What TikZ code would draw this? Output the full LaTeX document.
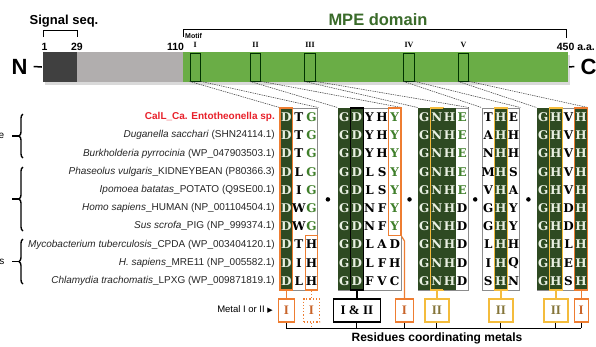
\documentclass[tikz,border=0pt]{standalone}
\usepackage{fontspec}
\setmainfont{Liberation Sans}
\newfontfamily\resfont{DejaVu Serif}
\newfontfamily\romfont{Liberation Serif}
\newfontfamily\symfont{DejaVu Sans}
\usetikzlibrary{positioning,decorations.pathreplacing}
\definecolor{barGreen}{HTML}{6AAD46}
\definecolor{barDark}{HTML}{404040}
\definecolor{barGrey}{HTML}{B1AEAE}
\definecolor{domGreen}{HTML}{3A6B2A}
\definecolor{cellDark}{HTML}{2E4A22}
\definecolor{resLight}{HTML}{E9F0E2}
\definecolor{resGreen}{HTML}{3F7F2A}
\definecolor{metOrange}{HTML}{EE7D31}
\definecolor{metYellow}{HTML}{F4BC3C}
\definecolor{metRed}{HTML}{E8202A}
\definecolor{grpGrey}{HTML}{8C8C8C}
\definecolor{txtOrange}{HTML}{C8642A}
\definecolor{txtOlive}{HTML}{857539}

\begin{document}
\begin{tikzpicture}[x=1pt, y=-1pt,
    barseg/.style={minimum height=30pt, inner sep=0pt},
    motbox/.style={draw=black!80!green, line width=0.8pt, minimum width=10.5pt, minimum height=28pt, inner sep=0pt},
    motlab/.style={font=\romfont\bfseries\fontsize{8}{8}\selectfont, inner sep=0pt},
    num/.style={font=\bfseries\fontsize{10.5}{11}\selectfont, inner sep=0pt},
    term/.style={font=\bfseries\fontsize{22}{22}\selectfont, inner sep=0pt},
    dashln/.style={draw=black!75, line width=0.55pt, dash pattern=on 1.4pt off 0.9pt},
    grpbox/.style={draw=grpGrey, line width=1pt, minimum height=182pt, inner sep=0pt},
    darkcol/.style={fill=cellDark, minimum width=12.6pt, minimum height=182pt, inner sep=0pt},
    hlbox/.style={minimum width=12.6pt, inner sep=0pt, line width=1.2pt},
    res/.style={font=\resfont\bfseries\fontsize{12}{12}\selectfont, inner sep=0pt},
    species/.style={anchor=east, inner sep=0pt, font=\fontsize{10}{10}\selectfont, text=black!85},
    metbox/.style={minimum height=23pt, inner sep=0pt, line width=1.2pt, fill=white, font=\romfont\bfseries\fontsize{13}{13}\selectfont},
    orline/.style={draw=metOrange, line width=1.2pt},
    yeline/.style={draw=metYellow, line width=1.2pt},
    brk/.style={line width=1.4pt, decorate, decoration={brace, amplitude=4pt}},
    dotmark/.style={circle, fill=black, inner sep=0pt, minimum size=4.5pt}]
  \fill[white] (0,0) rectangle (596,346);
  \useasboundingbox (0,0) rectangle (596,346);

  % protein bar
  \fill[black!15] (45,55) rectangle (570,85);
  \node[barseg, fill=barDark, minimum width=34pt] (sigseg) at (60,67) {};
  \node[barseg, fill=barGrey, minimum width=106pt] (proseg) at (130,67) {};
  \node[barseg, fill=barGreen, minimum width=385pt] (mpeseg) at (375.5,67) {};
  \node[term] (nterm) at (19.5,66.5) {N};
  \node[term] (cterm) at (588.5,66.5) {C};
  \draw[line width=1.5pt] ([xshift=6pt]nterm.east) -- ([xshift=-1pt]sigseg.west);
  \draw[line width=1.5pt] ([xshift=1pt]mpeseg.east) -- ([xshift=-6pt]cterm.west);

  \node[num] (n1) at (44.5,47) {1};
  \node[num] (n29) at (77,47) {29};
  \node[num] (n110) at (175.5,47) {110};
  \node[num, anchor=east] (n450) at (595,47) {450 a.a.};

  \draw[line width=0.8pt] (43,37) -- (43,30) -- (77,30) -- (77,37);
  \node[font=\bfseries\fontsize{13}{13}\selectfont] (sigtxt) at (64,21) {Signal seq.};
  \draw[line width=0.8pt] (183,37) -- (183,29) -- (566,29) -- (566,38);
  \node[font=\bfseries\fontsize{16.5}{16.5}\selectfont, text=domGreen] (mpetxt) at (378,20) {MPE domain};
  \node[font=\bfseries\fontsize{7}{7}\selectfont, anchor=west, inner sep=0pt] (motiftxt) at (185,36) {Motif};

  \foreach \k/\mx/\lab in {1/195.2/I, 2/255.5/II, 3/310/III, 4/409/IV, 5/463.5/V} {
    \node[motbox] (mot\k) at (\mx,67) {};
    \node[motlab, above=5pt of mot\k] (motlab\k) {\lab};
  }

  % alignment groups
  \node[grpbox, minimum width=37.8pt] (grp1) at (298.9,199) {};
  \node[grpbox, minimum width=63pt] (grp2) at (369.5,199) {};
  \node[grpbox, minimum width=50.4pt] (grp3) at (443.2,199) {};
  \node[grpbox, minimum width=37.8pt] (grp4) at (500.9,199) {};
  \node[grpbox, minimum width=50.4pt] (grp5) at (562.2,199) {};

  \foreach \k in {1,...,5} {
    \draw[dashln] (mot\k.south west) -- (grp\k.north west);
    \draw[dashln] (mot\k.south east) -- (grp\k.north east);
  }

  \node[darkcol, draw=metOrange, line width=1.2pt] (g1d) at (286.3,199) {};
  \node[hlbox, draw=metOrange, minimum height=54.2pt] (g1h) at (311.5,262.9) {};
  \node[darkcol] (g2g) at (344.3,199) {};
  \node[darkcol, draw=black, line width=1.3pt] (g2d) at (356.9,199) {};
  \node[hlbox, draw=metOrange, minimum height=127.8pt] (g2y) at (394.7,171.9) {};
  \node[darkcol] (g3g) at (424.3,199) {};
  \node[darkcol, draw=metYellow, line width=1.2pt] (g3n) at (436.9,199) {};
  \node[darkcol] (g3h) at (449.5,199) {};
  \node[darkcol, draw=metYellow, line width=1.2pt] (g4h) at (500.9,199) {};
  \node[darkcol] (g5g) at (543.3,199) {};
  \node[darkcol, draw=metYellow, line width=1.2pt] (g5h) at (555.9,199) {};
  \node[darkcol, draw=metOrange, line width=1.2pt] (g5l) at (581.1,199) {};

  \foreach \a/\b/\c/\cc [count=\i] in {D/T/G/resGreen, D/T/G/resGreen, D/T/G/resGreen, D/L/G/resGreen, D/I/G/resGreen,
      D/W/G/resGreen, D/W/G/resGreen, D/T/H/black, D/I/H/black, D/L/H/black} {
    \pgfmathsetmacro\ry{117.1+(\i-1)*18.2}
    \node[res, text=resLight] (ra-\i-1) at (286.3,\ry) {\a};
    \node[res] (ra-\i-2) at (298.9,\ry) {\b};
    \node[res, text=\cc] (ra-\i-3) at (311.5,\ry) {\c};
  }
  \foreach \c/\d/\e/\cc [count=\i] in {Y/H/Y/resGreen, Y/H/Y/resGreen, Y/H/Y/resGreen, L/S/Y/resGreen, L/S/Y/resGreen,
      N/F/Y/resGreen, N/F/Y/resGreen, L/A/D/black, L/F/H/black, F/V/C/black} {
    \pgfmathsetmacro\ry{117.1+(\i-1)*18.2}
    \node[res, text=resLight] (rb-\i-1) at (344.3,\ry) {G};
    \node[res, text=resLight] (rb-\i-2) at (356.9,\ry) {D};
    \node[res] (rb-\i-3) at (369.5,\ry) {\c};
    \node[res] (rb-\i-4) at (382.1,\ry) {\d};
    \node[res, text=\cc] (rb-\i-5) at (394.7,\ry) {\e};
  }
  \foreach \d/\cc [count=\i] in {E/resGreen, E/resGreen, E/resGreen, E/resGreen, E/resGreen,
      D/black, D/black, D/black, D/black, D/black} {
    \pgfmathsetmacro\ry{117.1+(\i-1)*18.2}
    \node[res, text=resLight] (rc-\i-1) at (424.3,\ry) {G};
    \node[res, text=resLight] (rc-\i-2) at (436.9,\ry) {N};
    \node[res, text=resLight] (rc-\i-3) at (449.5,\ry) {H};
    \node[res, text=\cc] (rc-\i-4) at (462.1,\ry) {\d};
  }
  \foreach \a/\c [count=\i] in {T/E, A/H, N/H, M/S, V/A, G/Y, G/Y, L/H, I/Q, S/N} {
    \pgfmathsetmacro\ry{117.1+(\i-1)*18.2}
    \node[res] (rd-\i-1) at (488.3,\ry) {\a};
    \node[res, text=resLight] (rd-\i-2) at (500.9,\ry) {H};
    \node[res] (rd-\i-3) at (513.5,\ry) {\c};
  }
  \foreach \c [count=\i] in {V, V, V, V, V, D, D, L, E, S} {
    \pgfmathsetmacro\ry{117.1+(\i-1)*18.2}
    \node[res, text=resLight] (re-\i-1) at (543.3,\ry) {G};
    \node[res, text=resLight] (re-\i-2) at (555.9,\ry) {H};
    \node[res] (re-\i-3) at (568.5,\ry) {\c};
    \node[res, text=resLight] (re-\i-4) at (581.1,\ry) {H};
  }

  \node[dotmark] (sep1) at (327.9,199.4) {};
  \node[dotmark] (sep2) at (409.5,199.4) {};
  \node[dotmark] (sep3) at (475.2,199.4) {};
  \node[dotmark] (sep4) at (528.4,199.4) {};

  % species
  \foreach \t [count=\i] in {{\color{metRed}\bfseries CalL\_Ca. Entotheonella sp.},
      \textit{Duganella sacchari} (SHN24114.1),
      \textit{Burkholderia pyrrocinia} (WP\_047903503.1),
      \textit{Phaseolus vulgaris}\_KIDNEYBEAN (P80366.3),
      \textit{Ipomoea batatas}\_POTATO (Q9SE00.1),
      \textit{Homo sapiens}\_HUMAN (NP\_001104504.1),
      \textit{Sus scrofa}\_PIG (NP\_999374.1),
      \textit{Mycobacterium tuberculosis}\_CPDA (WP\_003404120.1),
      \textit{H. sapiens}\_MRE11 (NP\_005582.1),
      \textit{Chlamydia trachomatis}\_LPXG (WP\_009871819.1)} {
    \pgfmathsetmacro\ry{117.1+(\i-1)*18.2}
    \node[species] (sp\i) at (275,\ry) {\t};
  }

  \draw[brk] (23,158) -- (23,114);
  \draw[brk] (23,231) -- (23,167);
  \draw[brk] (23,284) -- (23,239);
  \draw[line width=1.4pt] (19,136) -- (12,136);
  \draw[line width=1.4pt] (19,199) -- (12,199);
  \draw[line width=1.4pt] (19,261.5) -- (12,261.5);
  \node[anchor=east, inner sep=0pt, font=\fontsize{10}{10}\selectfont] (cuta) at (4.5,136) {e};
  \node[anchor=east, inner sep=0pt, font=\fontsize{10}{10}\selectfont] (cutc) at (4.5,261.5) {s};

  % metal boxes
  \node[metbox, draw=metOrange, minimum width=16pt, text=txtOrange] (m1) at (286.3,310.5) {I};
  \node[metbox, draw=metOrange, dotted, minimum width=16pt, text=txtOrange] (m2) at (311.5,310.5) {I};
  \node[metbox, draw=black, minimum width=47pt] (m3) at (356.9,310.5) {I \& II};
  \node[metbox, draw=metOrange, minimum width=18pt, text=txtOrange] (m4) at (404.5,310.5) {I};
  \node[metbox, draw=metYellow, minimum width=24pt, text=txtOlive] (m5) at (436.9,310.5) {II};
  \node[metbox, draw=metYellow, minimum width=24pt, text=txtOlive] (m6) at (500.9,310.5) {II};
  \node[metbox, draw=metYellow, minimum width=24pt, text=txtOlive] (m7) at (555.9,310.5) {II};
  \node[metbox, draw=metOrange, minimum width=14pt, text=txtOrange] (m8) at (581.1,310.5) {I};
  \coordinate (ybend) at (404.5,241);

  \draw[orline] (g1d.south) -- (m1.north);
  \draw[orline, dotted] (g1h.south) -- (m2.north);
  \draw[line width=1.3pt] (g2d.south) -- (m3.north);
  \draw[orline] (g2y.south east) -- (ybend) -- (m4.north);
  \draw[yeline] (g3n.south) -- (m5.north);
  \draw[yeline] (g4h.south) -- (m6.north);
  \draw[yeline] (g5h.south) -- (m7.north);
  \draw[orline] (g5l.south) -- (m8.north);

  \coordinate (baseL) at (286.3,328);
  \foreach \m in {m1,m3,m4,m5,m6,m7,m8}
    \draw[line width=1pt] (\m.south) -- (\m.south |- baseL);
  \draw[orline, dotted] (m2.south) -- (m2.south |- baseL);
  \draw[line width=1pt] (m1.south |- baseL) -- (m8.south |- baseL);

  \node[anchor=east, inner sep=0pt, font=\fontsize{9.5}{9.5}\selectfont] (metlab) at (273,309) {Metal I or II {\symfont\fontsize{7}{7}\selectfont ▶}};
  \node[font=\bfseries\fontsize{12}{12}\selectfont, inner sep=0pt] (restxt) at (437,338) {Residues coordinating metals};
\end{tikzpicture}
\end{document}
